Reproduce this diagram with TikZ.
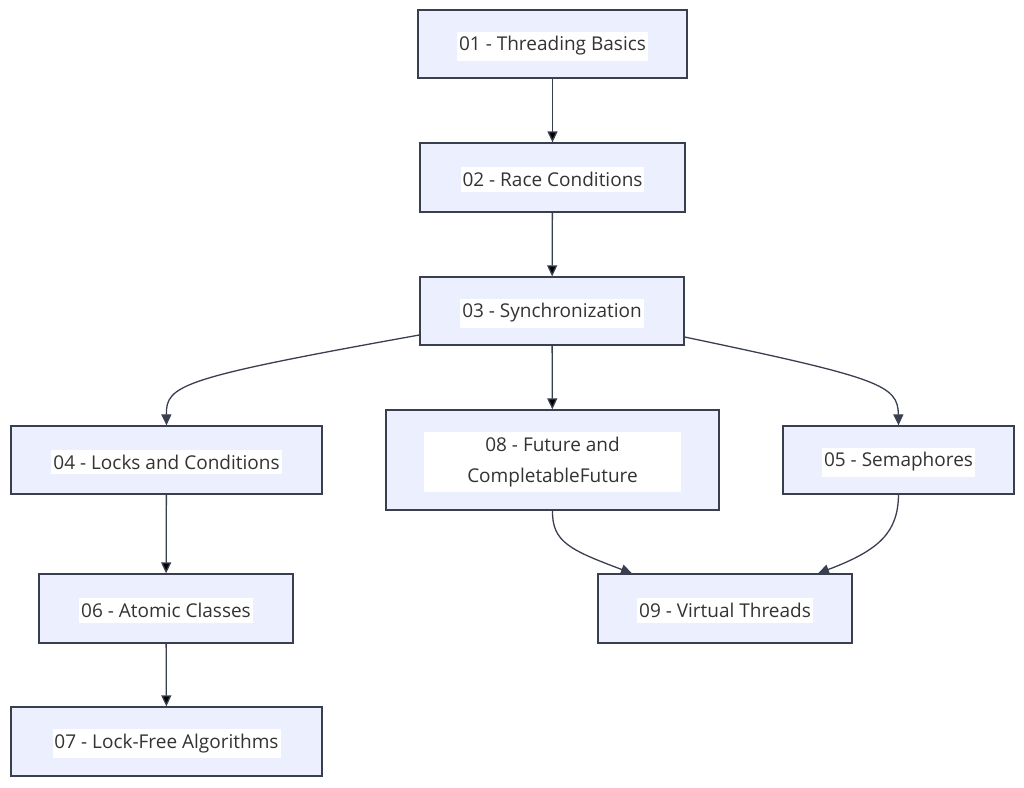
\documentclass[tikz,border=0pt]{standalone}
\usepackage{fontspec}
\setmainfont{Open Sans}
\usetikzlibrary{arrows.meta}
\definecolor{lavender}{HTML}{ECEFFE}
\definecolor{slate}{HTML}{3A3F50}
\definecolor{ink}{HTML}{333333}
\tikzstyle{box}=[draw=slate,fill=lavender,line width=1.3pt,rectangle]
\tikzstyle{tag}=[fill=white,text=ink,inner xsep=2pt,inner ysep=5pt,align=center,font=\fontsize{19}{31}\selectfont]
\tikzstyle{link}=[draw=slate,line width=1.3pt,-{Triangle[length=11pt,width=10pt]}]

\begin{document}
\begin{tikzpicture}[x=1pt,y=-1pt]
  \useasboundingbox (0,0) rectangle (1024,787);
  \foreach \place/\name/\bw/\bh/\tw/\txt in {{(552.5,44)/n01/269/68/0/01 - Threading Basics},
                            {(552.5,177.5)/n02/265/69/0/02 - Race Conditions},
                            {(552,311)/n03/264/68/0/03 - Synchronization},
                            {(166.5,460)/n04/311/68/0/04 - Locks and Conditions},
                            {(552.5,460)/n08/333/100/257/08 - Future and\\CompletableFuture},
                            {(898.5,460)/n05/231/68/0/05 - Semaphores},
                            {(166,608.5)/n06/254/69/0/06 - Atomic Classes},
                            {(725,608.5)/n09/254/69/0/09 - Virtual Threads},
                            {(166.5,741.5)/n07/311/69/0/07 - Lock-Free Algorithms}}
  {
    \node[box,minimum width=\bw pt,minimum height=\bh pt] (\name) at \place {};
    \node[tag,minimum width=\tw pt,yshift=-2pt] (\name-t) at \place {\txt};
  }
  \foreach \source/\dest in {n01/n02,n02/n03,n03/n08,n04/n06,n06/n07}
      \path[link] (\source) edge (\dest);
  \draw[link] ([yshift=-24pt]n03.west) .. controls (180,378) and (166,385) .. (n04.north);
  \draw[link] ([yshift=-26pt]n03.east) .. controls (880,378) and (898,385) .. (n05.north);
  \draw[link] (n08.south) .. controls (552,542) and (570,550) .. ([xshift=-93pt]n09.north);
  \draw[link] (n05.south) .. controls (898,532) and (880,550) .. ([xshift=93pt]n09.north);
\end{tikzpicture}
\end{document}
